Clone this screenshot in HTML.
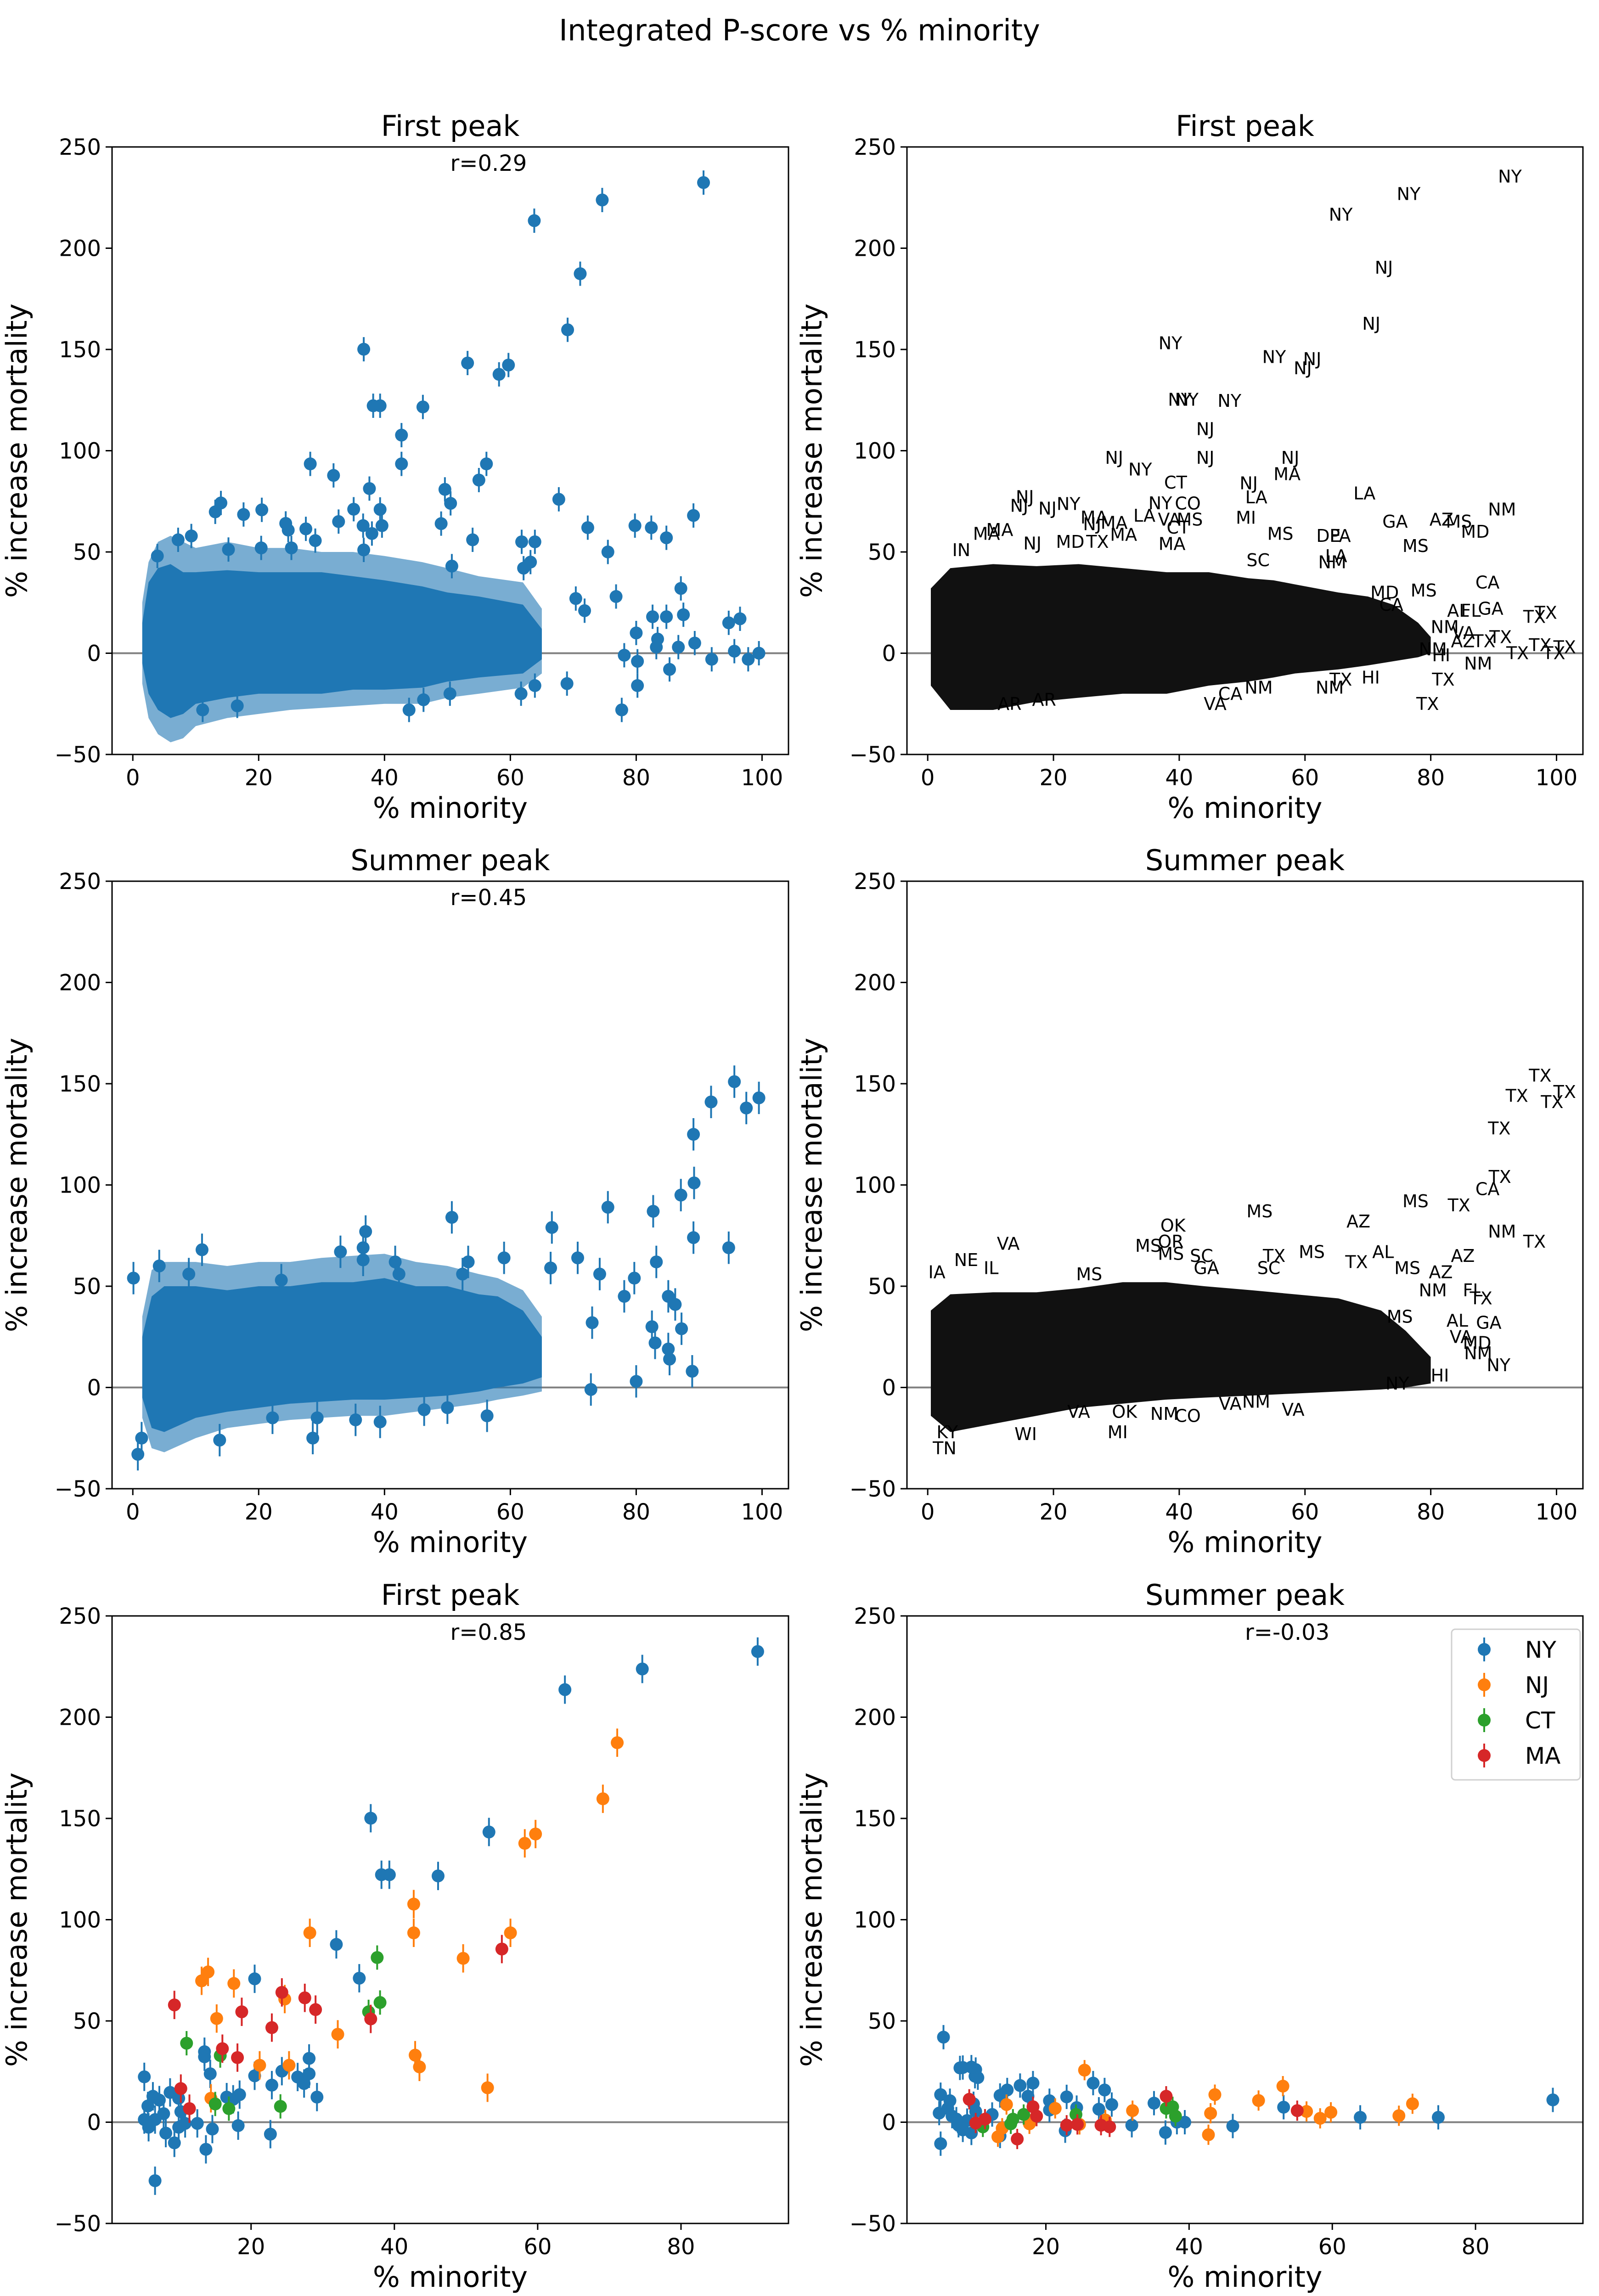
<!DOCTYPE html>
<html><head><meta charset="utf-8"><title>Integrated P-score vs % minority</title>
<style>
html,body{margin:0;padding:0;background:#fff;width:3482px;height:5034px;overflow:hidden;position:relative;}
svg{display:block;position:absolute;left:0;top:0;font-family:"DejaVu Sans","Liberation Sans",sans-serif;}
</style></head>
<body>
<svg id="fig" width="3482" height="5034" viewBox="0 0 3482 5034" xmlns="http://www.w3.org/2000/svg">
<rect width="3482" height="5034" fill="#fff"/>
<text x="1741" y="88" font-size="64" text-anchor="middle">Integrated P-score vs % minority</text>
</svg>
<script>
// ---------- data ----------
const yTicks = [-50, 0, 50, 100, 150, 200, 250];
const xTicksWide = [0, 20, 40, 60, 80, 100];
const xTicksNarrow = [20, 40, 60, 80];

// First-peak dense cloud envelope (markers)
const fpEnvX  = [1.5, 2.5, 4, 6, 8, 10, 15, 20, 25, 30, 35, 40, 46, 50, 55, 62, 65];
const fpEnvHi = [15, 35, 42, 44, 40, 40, 41, 40, 40, 40, 38, 36, 33, 30, 28, 24, 12];
const fpEnvLo = [-5, -20, -28, -32, -30, -25, -22, -20, -20, -20, -18, -18, -17, -14, -12, -10, -3];
// First-peak error-bar halo envelope
const fpHaloHi = [25, 45, 55, 58, 55, 52, 55, 52, 52, 50, 50, 48, 45, 42, 38, 35, 22];
const fpHaloLo = [-15, -32, -40, -44, -42, -36, -32, -30, -28, -27, -26, -25, -25, -22, -20, -17, -10];
// First-peak label cloud envelope
const fpTxtEnvX  = [0.5, 3.6, 10.4, 17.3, 24, 31, 38, 44.7, 51, 55, 58.4, 65.3, 70, 74, 78, 80];
const fpTxtEnvHi = [32, 42, 44, 43, 44, 42, 40, 40, 37, 36, 34, 30, 28, 24, 15, 8];
const fpTxtEnvLo = [-16, -28, -28, -24, -22, -20, -20, -16, -14, -12, -10, -8, -6, -4, -2, 0];
// First-peak outlier counties
const fpX = [90.7,74.6,63.8,71.1,69.1,36.7,53.2,59.7,58.2,38.2,39.3,46.1,42.7,42.7,28.2,56.2,55.0,31.9,49.6,37.6,14.0,13.1,17.6,20.5,35.1,24.3,27.5,9.3,38.0,36.7,29.0,24.7,15.2,
  67.7,50.5,49.0,39.3,32.7,36.6,39.6,89.1,72.3,79.8,82.4,84.8,7.2,54.0,61.8,63.9,75.5,3.9,20.4,25.2,63.2,50.7,62.1,87.1,76.8,70.4,71.8,82.6,84.8,87.5,94.7,80.0,83.4,89.3,83.2,86.7,95.6,97.8,92.0,78.1,80.2,85.3,69.0,63.9,80.2,61.7,77.7,43.9,46.2,50.4,16.6,11.1,96.5,99.5];
const fpY = [232.4,223.8,213.6,187.4,159.7,150.1,143.3,142.3,137.7,122.2,122.2,121.6,107.7,93.5,93.5,93.5,85.5,87.8,80.9,81.3,74.2,69.8,68.5,70.8,71.1,64.1,61.4,57.9,59.1,51.0,55.6,60.8,51.2,
  76,74,64,71,65,63,63,68,62,63,62,57,56,56,55,55,50,48,52,52,45,43,42,32,28,27,21,18,18,19,15,10,7,5,3,3,1,-3,-3,-1,-4,-8,-15,-16,-16,-20,-28,-28,-23,-20,-26,-28,17,0];
const fpLab = ["NY","NY","NY","NJ","NJ","NY","NY","NJ","NJ","NY","NY","NY","NJ","NJ","NJ","NJ","MA","NY","NJ","CT","NJ","NJ","NJ","NY","NY","MA","MA","MA","CT","MA","MA","NJ","NJ",
  "LA","LA","MI","CO","LA","VA","MS","NM","GA","AZ","MS","MD","MA","MS","DE","PA","MS","IN","MD","TX","LA","SC","NM","CA","MS","MD","CA","AL","FL","GA","TX","NM","VA","TX","AZ","TX","TX","TX","TX","NM","HI","NM","HI","TX","TX","NM","TX","VA","CA","NM","AR","AR","TX","TX"];

// Summer-peak dense cloud envelope
const ssEnvX  = [1.5, 3, 5, 10, 15, 20, 25, 30, 35, 40, 45, 50, 55, 58, 62, 65];
const ssEnvHi = [25, 45, 50, 50, 48, 50, 50, 52, 52, 54, 50, 50, 46, 45, 38, 25];
const ssEnvLo = [-5, -20, -22, -15, -12, -10, -8, -7, -6, -6, -5, -4, -2, 0, 2, 5];
const ssHaloHi = [35, 58, 62, 62, 60, 62, 62, 64, 65, 66, 62, 60, 56, 54, 48, 35];
const ssHaloLo = [-15, -30, -32, -25, -20, -18, -16, -15, -14, -14, -12, -10, -8, -6, -4, -2];
const ssTxtEnvX  = [0.5, 3.6, 10.4, 17.3, 24.1, 31, 37.8, 44, 51.5, 58.4, 65.3, 72.1, 76, 80];
const ssTxtEnvHi = [38, 46, 47, 47, 49, 52, 52, 50, 48, 46, 44, 38, 28, 15];
const ssTxtEnvLo = [-14, -22, -18, -14, -10, -8, -6, -5, -4, -3, -2, -1, 0, 2];
// Summer-peak outlier counties
const ssX = [95.6,91.9,97.5,89.1,87.1,75.5,82.7,50.7,66.6,89.1,94.7,37.0,11.0,33.0,36.6,41.7,36.6,59.0,53.3,70.7,83.2,4.2,8.9,0.1,23.6,52.4,74.2,79.7,42.3,66.4,78.1,85.1,86.2,73.0,82.5,87.2,83.0,85.1,85.3,88.9,80.0,72.8,56.3,50.0,29.3,35.4,39.3,28.6,0.8,1.4,13.8,22.2,46.3,89.2,99.5];
const ssY = [151,141,138,125,95,89,87,84,79,74,69,77,68,67,69,62,63,64,62,64,62,60,56,54,53,56,56,54,56,59,45,45,41,32,30,29,22,19,14,8,3,-1,-14,-10,-15,-16,-17,-25,-33,-25,-26,-15,-11,101,143];
const ssLab = ["TX","TX","TX","TX","CA","MS","TX","MS","AZ","NM","TX","OK","VA","MS","OR","SC","MS","MS","TX","AL","AZ","NE","IL","IA","MS","SC","MS","AZ","GA","TX","NM","FL","TX","MS","AL","GA","VA","MD","NM","NY","HI","NY","VA","NM","OK","NM","CO","MI","TN","KY","WI","VA","VA","TX","TX"];

// Bottom-left: first peak, NY/NJ/CT/MA counties
const nyX1 = [90.7,74.6,63.8,36.7,53.2,38.2,39.3,46.1,31.9,35.1,20.5,13.5,13.5,14.3,28.1,28.1,24.3,20.5,22.9,26.5,27.4,29.2,5.1,5.6,6.3,7.2,8.7,9.9,16.6,18.4,17.5,5.1,5.7,6.6,8.1,9.3,9.9,10.8,12.5,14.6,18.2,22.7,13.7,6.6,7.8,10.2];
const nyY1 = [232.4,223.8,213.6,150.1,143.3,122.2,122.2,121.6,87.8,71.1,70.8,34.8,32.3,23.9,31.5,23.9,25.2,22.9,18.3,22.3,19.1,12.4,22.4,8.0,12.8,10.9,14.7,11.8,12.4,13.6,11.3,1.3,-2.5,1.3,-5.4,-10.2,-2.5,-0.6,-0.6,-3.4,-1.7,-5.9,-13.4,-28.9,4.2,5.2];
const njX1 = [71.1,69.1,58.2,59.7,42.7,42.7,28.2,56.2,49.6,14.0,13.1,17.6,24.7,15.2,32.1,42.9,43.5,53.0,21.2,25.3,14.4];
const njY1 = [187.4,159.7,137.7,142.3,107.7,93.5,93.5,93.5,80.9,74.2,69.8,68.5,60.8,51.2,43.4,33.1,27.3,17.0,28.1,28.1,11.8];
const ctX1 = [37.6,38.0,36.4,11.0,15.7,15.0,16.9,24.1];
const ctY1 = [81.3,59.1,54.5,39.0,32.9,9.0,6.7,7.8];
const maX1 = [55.0,24.3,27.5,29.0,9.3,18.7,36.7,22.9,16.0,18.1,10.2,11.4];
const maY1 = [85.5,64.1,61.4,55.6,57.9,54.5,51.0,46.7,36.3,31.9,16.6,6.7];

// Bottom-right: summer peak, NY/NJ/CT/MA counties
const nyX2 = [90.8,74.8,63.9,53.2,46.1,39.4,38.3,36.7,35.1,32.0,29.2,28.2,27.4,26.6,24.3,22.9,22.7,20.5,20.5,18.2,17.5,16.4,14.6,13.6,12.5,13.6,5.7,8.4,10.2,10.5,8.0,9.6,10.1,5.3,5.3,5.1,6.6,6.9,7.8,8.4,9.6,9.0,10.2,6.3,7.5,9.9];
const nyY2 = [11.0,2.4,2.4,7.4,-1.9,0,0,-5.1,9.4,-1.5,8.7,15.9,6.4,19.3,7.2,12.5,-4.2,10.6,6.0,19.3,12.8,18.1,15.9,13.2,3.8,-6.8,42,27,26,22,26.8,27.2,22.7,13.6,-10.6,4.5,10.6,3.0,-1.5,-3.8,-5.3,0.8,5.3,6.8,1.5,9.1];
const njX2 = [25.4,53.1,43.6,49.7,71.2,14.5,21.3,32.1,43.0,59.8,56.4,69.3,58.3,42.7,17.7,24.7,28.3,13.3,13.9];
const njY2 = [25.7,17.8,13.6,10.7,9.1,8.7,6.8,5.7,4.4,4.9,5.3,3.2,1.9,-6.2,-0.8,-1.1,1.1,-7.2,-3.0];
const ctX2 = [36.8,37.7,38.1,24.2,16.9,15.4,15.1,11.2];
const ctY2 = [6.8,7.6,3.0,3.8,3.8,1.5,-0.8,-2.3];
const maX2 = [36.8,55.1,9.3,18.2,18.7,11.5,10.2,22.9,24.4,27.7,28.9,16.0];
const maY2 = [12.8,5.7,11.3,7.6,3.0,1.5,-0.4,-1.5,-1.1,-1.5,-2.3,-8.3];

// ---------- drawing ----------
const NS = "http://www.w3.org/2000/svg";
const svg = document.getElementById('fig');
const C = {NY:'#1f77b4', NJ:'#ff7f0e', CT:'#2ca02c', MA:'#d62728'};
function mk(tag, attrs, parent){ const e=document.createElementNS(NS,tag); for(const k in attrs) e.setAttribute(k,attrs[k]); (parent||svg).appendChild(e); return e; }

function makeAxes(x0,y0,w,h,xmin,xmax,xticks,title,rtxt,name){
  const g = mk('g',{});
  
  
  const ax = {x0,y0,w,h,xmin,xmax,g,
    sx: v => x0 + (v-xmin)/(xmax-xmin)*w,
    sy: v => y0 + (250-v)/300*h};
  const zl = mk('line',{x1:x0,x2:x0+w,y1:ax.sy(0),y2:ax.sy(0),stroke:'#808080','stroke-width':4},g);
  
  
  ax.content = mk('g',{},g);
  const fr = mk('rect',{x:x0,y:y0,width:w,height:h,fill:'none',stroke:'#000','stroke-width':3},g);
  
  
  yTicks.forEach(t=>{
    const y=ax.sy(t);
    mk('line',{x1:x0-14,x2:x0,y1:y,y2:y,stroke:'#000','stroke-width':3},g);
    const tx = mk('text',{x:x0-24,y:y+17,'font-size':48,'text-anchor':'end'},g);
    tx.textContent = t<0 ? '\u2212'+Math.abs(t) : String(t);
    
    
  });
  xticks.forEach(t=>{
    const x=ax.sx(t);
    mk('line',{x1:x,x2:x,y1:y0+h,y2:y0+h+14,stroke:'#000','stroke-width':3},g);
    const tx = mk('text',{x:x,y:y0+h+67,'font-size':48,'text-anchor':'middle'},g);
    tx.textContent = String(t);
    
    
  });
  const ti = mk('text',{x:x0+w/2,y:y0-24,'font-size':62,'text-anchor':'middle'},g);
  ti.textContent = title;
  
  
  if(rtxt){
    const r = mk('text',{x:x0+w/2,y:y0+52,'font-size':48},g);
    r.textContent = rtxt;
    
    
  }
  const xl = mk('text',{x:x0+w/2,y:y0+h+138,'font-size':62,'text-anchor':'middle'},g);
  xl.textContent = '% minority';
  
  
  const yc = y0+h/2, xc = x0-186;
  const yl = mk('text',{x:xc,y:yc,'font-size':62,'text-anchor':'middle',transform:`rotate(-90 ${xc} ${yc})`},g);
  yl.textContent = '% increase mortality';
  
  
  return ax;
}

function envelope(ax, xs, hi, lo, fill, opacity, name){
  let d = '';
  xs.forEach((x,i)=>{ d += (i?'L':'M') + ax.sx(x).toFixed(1)+','+ax.sy(hi[i]).toFixed(1); });
  for(let i=xs.length-1;i>=0;i--) d += 'L'+ax.sx(xs[i]).toFixed(1)+','+ax.sy(lo[i]).toFixed(1);
  d += 'Z';
  const p = mk('path',{d:d,fill:fill,'fill-opacity':opacity},ax.content);
  
  
}

function points(ax, xs, ys, color, err, name){
  xs.forEach((x,i)=>{
    const cx=ax.sx(x), cy=ax.sy(ys[i]);
    const eb = mk('line',{x1:cx,x2:cx,y1:ax.sy(ys[i]+err),y2:ax.sy(ys[i]-err),stroke:color,'stroke-width':4},ax.content);
    
    
    const c = mk('circle',{cx:cx,cy:cy,r:14,fill:color},ax.content);
    
    
  });
}

function labels(ax, xs, ys, labs){
  xs.forEach((x,i)=>{
    const t = mk('text',{x:ax.sx(x),y:ax.sy(ys[i]),'font-size':38},ax.content);
    t.textContent = labs[i];
    
    
  });
}

const L=244, R=1975, W=1473, H=1323;
const rows=[320,1919,3519];

// Row 1
const a1 = makeAxes(L,rows[0],W,H,-3.3,104.2,xTicksWide,'First peak','r=0.29','panel-first-peak-points');
envelope(a1, fpEnvX, fpHaloHi, fpHaloLo, C.NY, 0.6, 'county-error-halo');
envelope(a1, fpEnvX, fpEnvHi, fpEnvLo, C.NY, 1, 'county-cloud');
points(a1, fpX, fpY, C.NY, 6, 'county-point');
const a2 = makeAxes(R,rows[0],W-1,H,-3.3,104.2,xTicksWide,'First peak',null,'panel-first-peak-labels');
envelope(a2, fpTxtEnvX, fpTxtEnvHi, fpTxtEnvLo, '#111', 1, 'label-cloud');
labels(a2, fpX, fpY, fpLab);

// Row 2
const a3 = makeAxes(L,rows[1],W,H,-3.3,104.2,xTicksWide,'Summer peak','r=0.45','panel-summer-peak-points');
envelope(a3, ssEnvX, ssHaloHi, ssHaloLo, C.NY, 0.6, 'county-error-halo');
envelope(a3, ssEnvX, ssEnvHi, ssEnvLo, C.NY, 1, 'county-cloud');
points(a3, ssX, ssY, C.NY, 8, 'county-point');
const a4 = makeAxes(R,rows[1],W-1,H,-3.3,104.2,xTicksWide,'Summer peak',null,'panel-summer-peak-labels');
envelope(a4, ssTxtEnvX, ssTxtEnvHi, ssTxtEnvLo, '#111', 1, 'label-cloud');
labels(a4, ssX, ssY, ssLab);

// Row 3
const a5 = makeAxes(L,rows[2],W,H,0.6,95.0,xTicksNarrow,'First peak','r=0.85','panel-first-peak-northeast');
points(a5, nyX1, nyY1, C.NY, 7, 'ny-point');
points(a5, njX1, njY1, C.NJ, 7, 'nj-point');
points(a5, ctX1, ctY1, C.CT, 6, 'ct-point');
points(a5, maX1, maY1, C.MA, 7, 'ma-point');
const a6 = makeAxes(R,rows[2],W-1,H,0.6,95.0,xTicksNarrow,'Summer peak','r=-0.03','panel-summer-peak-northeast');
points(a6, nyX2, nyY2, C.NY, 6, 'ny-point');
points(a6, njX2, njY2, C.NJ, 5, 'nj-point');
points(a6, ctX2, ctY2, C.CT, 5, 'ct-point');
points(a6, maX2, maY2, C.MA, 5, 'ma-point');

// Legend
const legendStates = ['NY','NJ','CT','MA'];
const lg = mk('g',{});


mk('rect',{x:3161,y:3548,width:280,height:328,rx:8,fill:'#fff','fill-opacity':0.8,stroke:'#d0d0d0','stroke-width':3},lg);
legendStates.forEach((s,i)=>{
  const y = 3592 + i*77;
  const e = mk('g',{},lg);
  
  
  mk('line',{x1:3232,x2:3232,y1:y-26,y2:y+26,stroke:C[s],'stroke-width':4},e);
  mk('circle',{cx:3232,cy:y,r:14,fill:C[s]},e);
  const t = mk('text',{x:3321,y:y+18,'font-size':50},e);
  t.textContent = s;
});
</script>
</body></html>
